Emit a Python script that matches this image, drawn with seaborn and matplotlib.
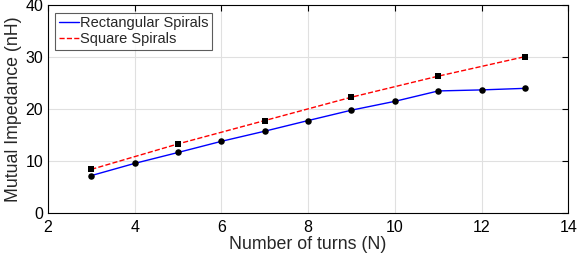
import matplotlib
matplotlib.use('Agg')
import matplotlib.pyplot as plt
import pandas as pd
import seaborn as sns

# Dados
turns_rect = [3, 4, 5, 6, 7, 8, 9, 10, 11, 12, 13]
imp_rect = [7.2, 9.55, 11.65, 13.8, 15.75, 17.8, 19.8, 21.5, 23.5, 23.7, 24.0]
turns_sq = [3, 5, 7, 9, 11, 13]
imp_sq = [8.4, 13.3, 17.8, 22.3, 26.35, 30.1]

df_rect = pd.DataFrame({'N': turns_rect, 'M': imp_rect})
df_sq = pd.DataFrame({'N': turns_sq, 'M': imp_sq})

sns.set_style('white')
plt.rcParams['font.family'] = ['Liberation Sans', 'DejaVu Sans']

fig, ax = plt.subplots(figsize=(5.77, 2.62), dpi=100)
fig.subplots_adjust(left=0.083, right=0.985, top=0.98, bottom=0.187)

# Linhas
sns.lineplot(x='N', y='M', data=df_rect, ax=ax, color='#0000ff', linewidth=1,
             label='Rectangular Spirals')
sns.lineplot(x='N', y='M', data=df_sq, ax=ax, color='#ff0000', linewidth=1,
             linestyle='--', label='Square Spirals')

# Marcadores
sns.scatterplot(x='N', y='M', data=df_rect, ax=ax, color='black', marker='o',
                s=22, edgecolor='black', linewidth=0, legend=False, zorder=3)
sns.scatterplot(x='N', y='M', data=df_sq, ax=ax, color='black', marker='s',
                s=18, edgecolor='black', linewidth=0, legend=False, zorder=3)

ax.set_xlim(2, 14)
ax.set_ylim(0, 40)
ax.set_xticks([2, 4, 6, 8, 10, 12, 14])
ax.set_yticks([0, 10, 20, 30, 40])
ax.grid(True, color='#e0e0e0', linewidth=0.8)
ax.set_axisbelow(True)
ax.tick_params(direction='in', top=True, right=True, length=4, width=0.8,
               labelsize=11.5, colors='black')
ax.tick_params(axis='x', pad=5)
ax.tick_params(axis='y', pad=3.5)
for s in ax.spines.values():
    s.set_color('black')
    s.set_linewidth(0.8)

ax.set_xlabel('Number of turns (N)', fontsize=12.8)
ax.set_ylabel('Mutual Impedance (nH)', fontsize=12.8)
ax.xaxis.set_label_coords(0.5, -0.11)
ax.yaxis.set_label_coords(-0.05, 0.5)

leg = ax.legend(loc='upper left', fontsize=10.5, frameon=True, fancybox=False,
                handlelength=1.4, handletextpad=0.05, borderpad=0.25,
                labelspacing=0.15, borderaxespad=0.5, edgecolor='#333333')
leg.get_frame().set_linewidth(0.8)

plt.savefig('out.png', dpi=100)
